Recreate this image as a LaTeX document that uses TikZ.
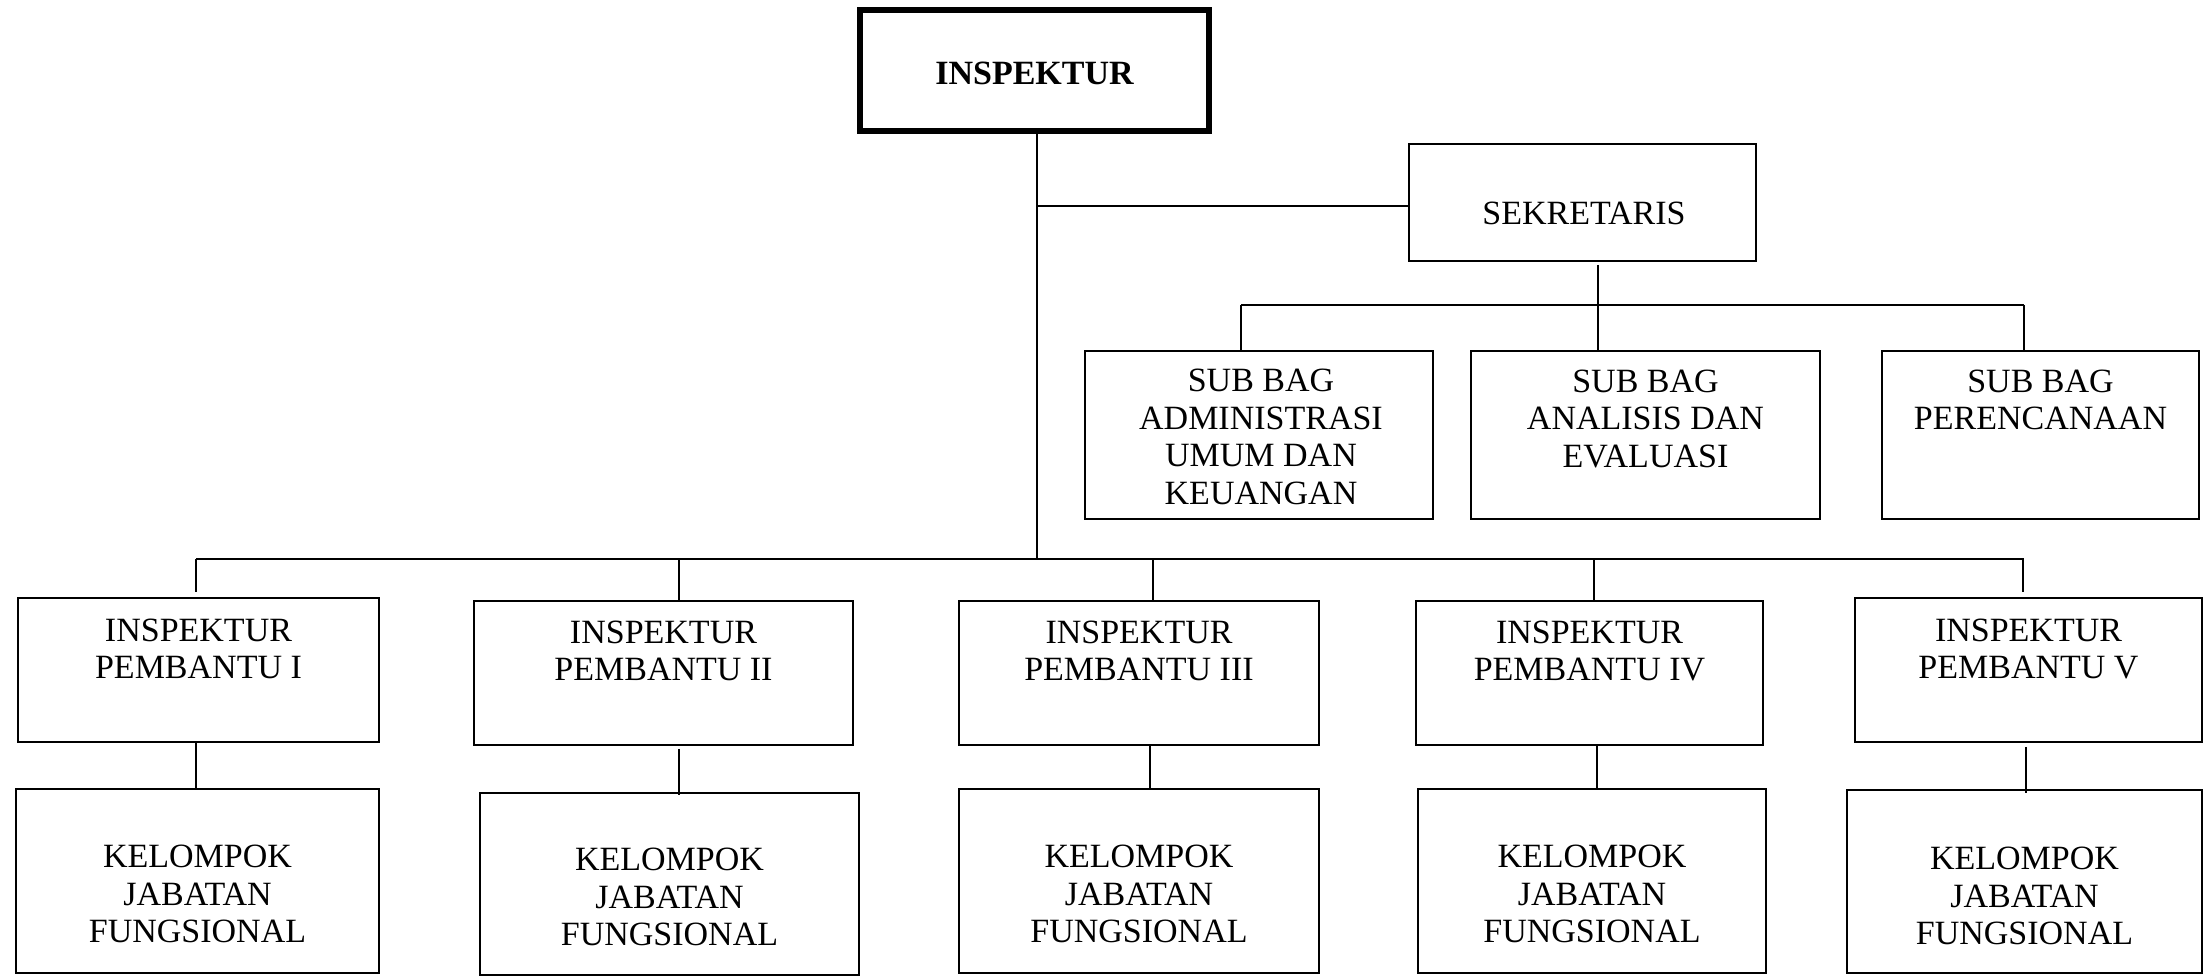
\documentclass[tikz,border=0pt]{standalone}
\usepackage{fontspec}
\setmainfont{Liberation Serif}
\begin{document}
\begin{tikzpicture}[x=1pt,y=-1pt,
  box/.style={draw=black,line width=1.8pt,rectangle,inner sep=0pt},
  bigbox/.style={draw=black,line width=5.5pt,rectangle,inner sep=0pt},
  txt/.style={align=center,inner sep=0pt,font=\fontsize{34}{37.5}\selectfont},
  conn/.style={line width=1.8pt}]
\useasboundingbox (0,0) rectangle (2212,976);
% boxes
\node[bigbox,minimum width=349pt,minimum height=121pt] (insp) at (1034.5,70.5) {};
\node[box,minimum width=347pt,minimum height=117pt] (sek) at (1582.5,202.5) {};
\node[box,minimum width=348pt,minimum height=168pt] (s1) at (1259,435) {};
\node[box,minimum width=349pt,minimum height=168pt] (s2) at (1645.5,435) {};
\node[box,minimum width=317pt,minimum height=168pt] (s3) at (2040.5,435) {};
\node[box,minimum width=361pt,minimum height=144pt] (p1) at (198.5,670) {};
\node[box,minimum width=379pt,minimum height=144pt] (p2) at (663.5,673) {};
\node[box,minimum width=360pt,minimum height=144pt] (p3) at (1139,673) {};
\node[box,minimum width=347pt,minimum height=144pt] (p4) at (1589.5,673) {};
\node[box,minimum width=347pt,minimum height=144pt] (p5) at (2028.5,670) {};
\node[box,minimum width=363pt,minimum height=184pt] (k1) at (197.5,881) {};
\node[box,minimum width=379pt,minimum height=182pt] (k2) at (669.5,884) {};
\node[box,minimum width=360pt,minimum height=184pt] (k3) at (1139,881) {};
\node[box,minimum width=348pt,minimum height=184pt] (k4) at (1592,881) {};
\node[box,minimum width=355pt,minimum height=183pt] (k5) at (2024.5,881.5) {};
% texts
\node[txt,font=\fontsize{34}{37.5}\selectfont\bfseries] (tinsp) at (1034.5,73) {INSPEKTUR};
\node[txt] (tsek) at (1584,213) {SEKRETARIS};
\node[txt] (ts1) at (1261,437) {SUB BAG\\ADMINISTRASI\\UMUM DAN\\KEUANGAN};
\node[txt] (ts2) at (1645.5,419) {SUB BAG\\ANALISIS DAN\\EVALUASI};
\node[txt] (ts3) at (2040.5,400) {SUB BAG\\PERENCANAAN};
\node[txt] (tp1) at (198.5,649) {INSPEKTUR\\PEMBANTU I};
\node[txt] (tp2) at (663.5,651) {INSPEKTUR\\PEMBANTU II};
\node[txt] (tp3) at (1139,651) {INSPEKTUR\\PEMBANTU III};
\node[txt] (tp4) at (1589.5,651) {INSPEKTUR\\PEMBANTU IV};
\node[txt] (tp5) at (2028.5,649) {INSPEKTUR\\PEMBANTU V};
\node[txt] (tk1) at (197.5,894) {KELOMPOK\\JABATAN\\FUNGSIONAL};
\node[txt] (tk2) at (669.5,897) {KELOMPOK\\JABATAN\\FUNGSIONAL};
\node[txt] (tk3) at (1139,894) {KELOMPOK\\JABATAN\\FUNGSIONAL};
\node[txt] (tk4) at (1592,894) {KELOMPOK\\JABATAN\\FUNGSIONAL};
\node[txt] (tk5) at (2024.5,896) {KELOMPOK\\JABATAN\\FUNGSIONAL};
% junction coordinates
\coordinate (trunkTop) at ([xshift=2.5pt]insp.south);
\coordinate (jsek) at (1037,206);
\coordinate (mainL) at (196,559);
\coordinate (mainR) at (2024,559);
\coordinate (trunkBot) at (1037,559);
\coordinate (sekStem) at (1598,265);
\coordinate (subBar) at (1598,305);
\coordinate (subL) at (1241,305);
\coordinate (subR) at (2024,305);
% connectors
\draw[conn] (trunkTop) -- (trunkBot);
\draw[conn] (jsek) -- (jsek -| sek.west);
\draw[conn] (mainL) -- (mainR);
\draw[conn] (sekStem) -- (subBar);
\draw[conn] (subL) -- (subR);
\draw[conn] (subL) -- (subL |- s1.north);
\draw[conn] (subBar) -- (subBar |- s2.north);
\draw[conn] (subR) -- (subR |- s3.north);
\draw[conn] (mainL) -- ([xshift=-2.5pt,yshift=5pt]p1.north);
\draw[conn] (679,559) -- ([xshift=15.5pt]p2.north);
\draw[conn] (1153,559) -- ([xshift=14pt]p3.north);
\draw[conn] (1594,559) -- ([xshift=4.5pt]p4.north);
\draw[conn] (2023,559) -- ([xshift=-5.5pt,yshift=5pt]p5.north);
\draw[conn] ([xshift=-2.5pt]p1.south) -- ([xshift=-2.5pt]p1.south |- k1.north);
\draw[conn] ([xshift=15.5pt,yshift=-3pt]p2.south) -- ([xshift=15.5pt,yshift=-3pt]p2.south |- k2.north);
\draw[conn] ([xshift=11pt]p3.south) -- ([xshift=11pt]p3.south |- k3.north);
\draw[conn] ([xshift=7.5pt]p4.south) -- ([xshift=7.5pt]p4.south |- k4.north);
\draw[conn] ([xshift=-2.5pt,yshift=-4pt]p5.south) -- ([xshift=-2.5pt,yshift=-4pt]p5.south |- k5.north);
\end{tikzpicture}
\end{document}
